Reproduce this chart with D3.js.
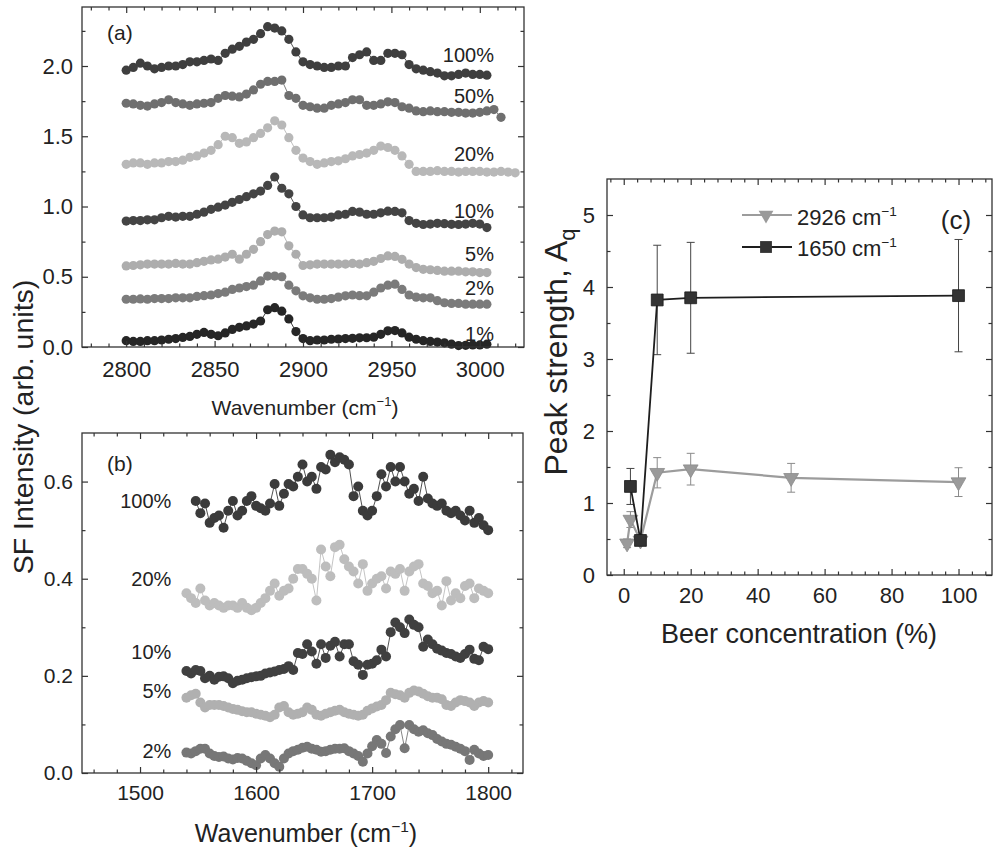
<!DOCTYPE html>
<html>
<head>
<meta charset="utf-8">
<script src="https://cdn.jsdelivr.net/npm/d3@7"></script>
<style>
body { margin: 0; background: #fff; }
svg { display: block; }
</style>
</head>
<body>
<svg id="fig" width="997" height="849"></svg>
<script>
var FONT = '"Liberation Sans", Arial, Helvetica, sans-serif';

// ---- panel (a): C-H stretch region, sampled every 4 cm-1 from 2800 ----
var chStart = 2800, chStep = 4;
var chNames = ["100%", "50%", "20%", "10%", "5%", "2%", "1%"];
var ch100 = [1.97,1.99,2.02,2.00,1.98,1.99,2.00,2.00,2.01,2.03,2.03,2.04,2.05,2.04,2.09,2.12,2.14,2.17,2.19,2.23,2.28,2.27,2.25,2.19,2.10,
             2.03,2.01,2.00,1.99,1.99,2.00,2.00,2.06,2.08,2.10,2.04,2.04,2.09,2.09,2.08,2.01,1.98,1.97,1.96,1.95,1.93,1.93,1.94,1.95,1.94,
             1.94,1.935];
var ch50 = [1.735,1.73,1.72,1.715,1.73,1.74,1.76,1.74,1.73,1.72,1.73,1.735,1.74,1.77,1.79,1.785,1.78,1.80,1.83,1.87,1.89,1.89,1.90,1.79,1.77,
            1.72,1.71,1.70,1.70,1.72,1.73,1.74,1.76,1.76,1.72,1.72,1.73,1.745,1.74,1.71,1.70,1.68,1.675,1.68,1.675,1.675,1.67,1.67,1.665,1.665,
            1.67,1.68,1.69,1.635];
var ch20 = [1.30,1.31,1.31,1.30,1.31,1.31,1.32,1.32,1.33,1.35,1.36,1.38,1.40,1.44,1.50,1.49,1.45,1.46,1.49,1.52,1.56,1.61,1.58,1.49,1.40,
            1.345,1.32,1.30,1.31,1.32,1.325,1.34,1.36,1.37,1.38,1.40,1.43,1.42,1.40,1.36,1.30,1.25,1.25,1.25,1.255,1.25,1.25,1.245,1.25,1.25,
            1.25,1.245,1.245,1.25,1.245,1.24];
var ch10 = [0.896,0.90,0.90,0.905,0.905,0.92,0.93,0.925,0.93,0.93,0.945,0.96,0.98,0.995,1.01,1.03,1.05,1.07,1.09,1.11,1.15,1.21,1.13,1.09,1.00,
            0.94,0.92,0.92,0.92,0.925,0.94,0.945,0.965,0.96,0.945,0.945,0.955,0.967,0.965,0.955,0.90,0.88,0.872,0.875,0.88,0.878,0.873,0.872,0.875,0.88,
            0.875,0.85];
var ch5 = [0.577,0.58,0.585,0.59,0.59,0.59,0.59,0.595,0.59,0.59,0.60,0.61,0.62,0.625,0.64,0.66,0.625,0.66,0.695,0.75,0.80,0.825,0.82,0.72,0.66,
           0.58,0.585,0.59,0.59,0.59,0.59,0.59,0.595,0.59,0.60,0.61,0.63,0.648,0.645,0.624,0.59,0.565,0.553,0.55,0.545,0.54,0.54,0.54,0.535,0.535,
           0.53,0.53];
var ch2 = [0.34,0.34,0.342,0.34,0.345,0.345,0.345,0.35,0.35,0.35,0.36,0.365,0.37,0.38,0.39,0.41,0.42,0.43,0.44,0.47,0.505,0.505,0.50,0.44,0.40,
           0.364,0.35,0.34,0.34,0.345,0.355,0.364,0.37,0.365,0.364,0.39,0.42,0.44,0.447,0.41,0.37,0.355,0.35,0.35,0.33,0.315,0.31,0.31,0.305,0.305,
           0.305,0.305];
var ch1 = [0.045,0.04,0.04,0.045,0.045,0.05,0.055,0.06,0.068,0.075,0.09,0.104,0.09,0.08,0.10,0.125,0.14,0.15,0.163,0.185,0.265,0.28,0.255,0.20,0.11,
           0.06,0.045,0.05,0.05,0.055,0.057,0.06,0.062,0.065,0.066,0.07,0.09,0.115,0.117,0.10,0.07,0.055,0.045,0.04,0.035,0.03,0.02,0.01,0.012,0.015,
           0.015,0.02];
var chSeries = [ch100, ch50, ch20, ch10, ch5, ch2, ch1];
var chColors = ["#3f3f3f", "#6f6f6f", "#b8b8b8", "#444444", "#adadad", "#7b7b7b", "#262626"];
var chLabelY = [2.03, 1.74, 1.325, 0.92, 0.615, 0.37, 0.045];

// ---- panel (b): amide region, sampled every 4 cm-1 ----
var amStep = 4;
var amNames = ["100%", "20%", "10%", "5%", "2%"];
var amStarts = [1548, 1540, 1540, 1540, 1540];
var am100 = [0.56,0.535,0.555,0.515,0.525,0.53,0.505,0.54,0.56,0.53,0.54,0.56,0.57,0.55,0.545,0.54,0.555,0.595,0.55,0.575,
             0.595,0.59,0.61,0.635,0.60,0.61,0.585,0.63,0.625,0.655,0.64,0.65,0.645,0.635,0.57,0.59,0.54,0.53,0.54,0.57,
             0.615,0.59,0.63,0.60,0.63,0.60,0.575,0.585,0.56,0.61,0.565,0.555,0.55,0.555,0.54,0.535,0.54,0.53,0.52,0.54,
             0.515,0.525,0.51,0.50];
var am20 = [0.37,0.36,0.35,0.38,0.355,0.345,0.35,0.345,0.34,0.345,0.345,0.34,0.35,0.34,0.335,0.34,0.35,0.36,0.375,0.39,
            0.365,0.375,0.38,0.40,0.42,0.42,0.41,0.40,0.355,0.46,0.425,0.405,0.465,0.47,0.44,0.425,0.415,0.39,0.43,0.375,
            0.39,0.40,0.405,0.38,0.415,0.41,0.42,0.375,0.415,0.425,0.43,0.39,0.385,0.37,0.375,0.345,0.395,0.355,0.37,0.36,
            0.385,0.39,0.36,0.38,0.375,0.37];
var am10 = [0.21,0.205,0.212,0.21,0.195,0.20,0.192,0.198,0.199,0.195,0.185,0.19,0.192,0.195,0.197,0.199,0.20,0.205,0.207,0.209,
            0.212,0.214,0.22,0.212,0.247,0.245,0.265,0.25,0.225,0.265,0.237,0.262,0.27,0.24,0.265,0.265,0.23,0.223,0.202,0.223,
            0.225,0.232,0.254,0.24,0.29,0.31,0.30,0.288,0.316,0.305,0.30,0.26,0.275,0.265,0.256,0.252,0.247,0.245,0.24,0.237,
            0.245,0.254,0.235,0.232,0.26,0.255];
var am5 = [0.155,0.16,0.163,0.145,0.135,0.14,0.14,0.14,0.138,0.135,0.132,0.13,0.127,0.125,0.125,0.122,0.12,0.118,0.115,0.12,
           0.135,0.138,0.125,0.12,0.122,0.125,0.135,0.13,0.12,0.118,0.122,0.125,0.128,0.13,0.125,0.122,0.12,0.118,0.12,0.128,
           0.133,0.137,0.14,0.15,0.165,0.162,0.16,0.155,0.165,0.17,0.168,0.163,0.158,0.155,0.155,0.152,0.14,0.138,0.145,0.15,
           0.148,0.145,0.138,0.145,0.148,0.145];
var am2 = [0.042,0.04,0.045,0.05,0.05,0.04,0.035,0.033,0.034,0.03,0.028,0.031,0.03,0.025,0.02,0.016,0.03,0.037,0.03,0.02,
           0.013,0.03,0.04,0.045,0.048,0.052,0.054,0.05,0.048,0.044,0.045,0.048,0.05,0.05,0.051,0.045,0.04,0.035,0.023,0.04,
           0.055,0.068,0.06,0.041,0.075,0.09,0.099,0.051,0.099,0.09,0.085,0.088,0.082,0.078,0.07,0.065,0.06,0.058,0.054,0.05,
           0.045,0.027,0.048,0.04,0.035,0.037];
var amSeries = [am100, am20, am10, am5, am2];
var amColors = ["#3b3b3b", "#bdbdbd", "#404040", "#b0b0b0", "#777777"];
var amLabelY = [0.546, 0.386, 0.235, 0.155, 0.031];

// ---- panel (c): peak strength vs beer concentration ----
var conc2926 = [1, 2, 5, 10, 20, 50, 100];
var peak2926 = [0.44, 0.77, 0.48, 1.42, 1.47, 1.35, 1.29];
var err2926  = [0.06, 0.11, 0.06, 0.21, 0.22, 0.20, 0.20];
var conc1650 = [2, 5, 10, 20, 100];
var peak1650 = [1.23, 0.48, 3.82, 3.85, 3.88];
var err1650  = [0.25, 0.06, 0.76, 0.77, 0.78];

var svg = d3.select("#fig");

function supText(sel, before, after, fs) {
    sel.append("tspan").text(before);
    sel.append("tspan").attr("dy", -0.42 * fs).style("font-size", (0.62 * fs) + "px").text("\u22121");
    sel.append("tspan").attr("dy", 0.42 * fs).text(after);
}

function minors(lo, hi, step, majors) {
    return d3.range(lo, hi + step / 2, step).filter(function (v) {
        return !majors.some(function (m) { return Math.abs(m - v) < 1e-6; });
    });
}

// frame with inward ticks on all four sides
function frame(g, x, y, w, h, o) {
    var tk = function (sel) {
        sel.select(".domain").remove();
        sel.attr("color", "#333");
        sel.selectAll("line").attr("stroke-width", 1.2);
        sel.selectAll("text").style("font-family", FONT).style("font-size", o.fs + "px").attr("fill", "#222");
    };
    g.append("g").attr("transform", "translate(0," + h + ")")
        .call(d3.axisBottom(x).tickValues(o.xt).tickSize(-6).tickPadding(o.xpad).tickFormat(o.xf)).call(tk);
    g.append("g").attr("transform", "translate(0," + h + ")")
        .call(d3.axisBottom(x).tickValues(o.xm).tickSize(-3.5).tickFormat("")).call(tk);
    g.append("g").call(d3.axisTop(x).tickValues(o.xt).tickSize(-6).tickFormat("")).call(tk);
    g.append("g").call(d3.axisTop(x).tickValues(o.xm).tickSize(-3.5).tickFormat("")).call(tk);
    g.append("g").call(d3.axisLeft(y).tickValues(o.yt).tickSize(-6).tickPadding(o.ypad).tickFormat(o.yf)).call(tk);
    g.append("g").call(d3.axisLeft(y).tickValues(o.ym).tickSize(-3.5).tickFormat("")).call(tk);
    g.append("g").attr("transform", "translate(" + w + ",0)")
        .call(d3.axisRight(y).tickValues(o.yt).tickSize(-6).tickFormat("")).call(tk);
    g.append("g").attr("transform", "translate(" + w + ",0)")
        .call(d3.axisRight(y).tickValues(o.ym).tickSize(-3.5).tickFormat("")).call(tk);
    g.append("rect").attr("width", w).attr("height", h)
        .attr("fill", "none").attr("stroke", "#333").attr("stroke-width", 1.3);
}

function spectra(g, x, y, series, starts, step, colors, r) {
    series.forEach(function (vals, i) {
        var pts = vals.map(function (v, j) { return [starts[i] + j * step, v]; });
        g.append("path").datum(pts)
            .attr("d", d3.line().x(function (d) { return x(d[0]); }).y(function (d) { return y(d[1]); }))
            .attr("fill", "none").attr("stroke", colors[i]).attr("stroke-width", 0.9);
        g.selectAll(null).data(pts).enter().append("circle")
            .attr("cx", function (d) { return x(d[0]); })
            .attr("cy", function (d) { return y(d[1]); })
            .attr("r", r).attr("fill", colors[i]);
    });
}

// ---------- (a) ----------
var aW = 442, aH = 340;
var ga = svg.append("g").attr("transform", "translate(82,7)");
var xa = d3.scaleLinear().domain([2775, 3025]).range([0, aW]);
var ya = d3.scaleLinear().domain([0, 2.42]).range([aH, 0]);
spectra(ga, xa, ya, chSeries, chSeries.map(function () { return chStart; }), chStep, chColors, 4.6);
frame(ga, xa, ya, aW, aH, {
    xt: [2800, 2850, 2900, 2950, 3000], xm: minors(2780, 3020, 10, [2800, 2850, 2900, 2950, 3000]),
    yt: [0, 0.5, 1, 1.5, 2], ym: [0.25, 0.75, 1.25, 1.75, 2.25],
    xf: d3.format("d"), yf: d3.format(".1f"), fs: 22, xpad: 14, ypad: 9
});
chNames.forEach(function (n, i) {
    ga.append("text").attr("x", xa(3008)).attr("y", ya(chLabelY[i])).attr("text-anchor", "end")
        .style("font-family", FONT).style("font-size", "20px").attr("fill", "#222").text(n);
});
ga.append("text").attr("x", 25).attr("y", 33).style("font-family", FONT).style("font-size", "21px")
    .attr("fill", "#222").text("(a)");
svg.append("text").attr("x", 305).attr("y", 415).attr("text-anchor", "middle")
    .style("font-family", FONT).style("font-size", "21px").attr("fill", "#222")
    .call(supText, "Wavenumber (cm", ")", 21);

// ---------- (b) ----------
var bW = 441, bH = 340;
var gb = svg.append("g").attr("transform", "translate(82,433)");
var xb = d3.scaleLinear().domain([1450, 1830]).range([0, bW]);
var yb = d3.scaleLinear().domain([0, 0.70]).range([bH, 0]);
spectra(gb, xb, yb, amSeries, amStarts, amStep, amColors, 5);
frame(gb, xb, yb, bW, bH, {
    xt: [1500, 1600, 1700, 1800], xm: minors(1460, 1820, 20, [1500, 1600, 1700, 1800]),
    yt: [0, 0.2, 0.4, 0.6], ym: [0.1, 0.3, 0.5],
    xf: d3.format("d"), yf: d3.format(".1f"), fs: 21, xpad: 12, ypad: 9
});
amNames.forEach(function (n, i) {
    gb.append("text").attr("x", xb(1527)).attr("y", yb(amLabelY[i])).attr("text-anchor", "end")
        .style("font-family", FONT).style("font-size", "20px").attr("fill", "#222").text(n);
});
gb.append("text").attr("x", 25).attr("y", 38).style("font-family", FONT).style("font-size", "21px")
    .attr("fill", "#222").text("(b)");
svg.append("text").attr("x", 306).attr("y", 842).attr("text-anchor", "middle")
    .style("font-family", FONT).style("font-size", "25px").attr("fill", "#222")
    .call(supText, "Wavenumber (cm", ")", 25);

// shared y title
svg.append("text").attr("transform", "translate(33,427) rotate(-90)").attr("text-anchor", "middle")
    .style("font-family", FONT).style("font-size", "28.5px").attr("fill", "#222")
    .text("SF Intensity (arb. units)");

// ---------- (c) ----------
var cW = 385, cH = 396;
var gc = svg.append("g").attr("transform", "translate(607,179)");
var xc = d3.scaleLinear().domain([-5, 110]).range([0, cW]);
var yc = d3.scaleLinear().domain([0, 5.5]).range([cH, 0]);
var triSym = d3.symbol().type(d3.symbolTriangle).size(95);
var sqSym = d3.symbol().type(d3.symbolSquare).size(140);

function errBars(g, xs, ys, es, col) {
    xs.forEach(function (xv, i) {
        var x0 = xc(xv), t = yc(ys[i] + es[i]), b = yc(ys[i] - es[i]);
        g.append("line").attr("x1", x0).attr("x2", x0).attr("y1", t).attr("y2", b).attr("stroke", col).attr("stroke-width", 1);
        g.append("line").attr("x1", x0 - 4).attr("x2", x0 + 4).attr("y1", t).attr("y2", t).attr("stroke", col).attr("stroke-width", 1);
        g.append("line").attr("x1", x0 - 4).attr("x2", x0 + 4).attr("y1", b).attr("y2", b).attr("stroke", col).attr("stroke-width", 1);
    });
}
var lineC = d3.line().x(function (d) { return xc(d[0]); }).y(function (d) { return yc(d[1]); });

errBars(gc, conc2926, peak2926, err2926, "#8a8a8a");
gc.append("path").datum(conc2926.map(function (c, i) { return [c, peak2926[i]]; }))
    .attr("d", lineC).attr("fill", "none").attr("stroke", "#9c9c9c").attr("stroke-width", 2.2);
gc.selectAll(null).data(conc2926).enter().append("path")
    .attr("d", triSym)
    .attr("transform", function (c, i) { return "translate(" + xc(c) + "," + yc(peak2926[i]) + ") rotate(180)"; })
    .attr("fill", "#9a9a9a").attr("stroke", "#8a8a8a").attr("stroke-width", 0.8);

errBars(gc, conc1650, peak1650, err1650, "#444");
gc.append("path").datum(conc1650.map(function (c, i) { return [c, peak1650[i]]; }))
    .attr("d", lineC).attr("fill", "none").attr("stroke", "#1e1e1e").attr("stroke-width", 1.8);
gc.selectAll(null).data(conc1650).enter().append("path")
    .attr("d", sqSym)
    .attr("transform", function (c, i) { return "translate(" + xc(c) + "," + yc(peak1650[i]) + ")"; })
    .attr("fill", "#333").attr("stroke", "#1a1a1a").attr("stroke-width", 0.8);

frame(gc, xc, yc, cW, cH, {
    xt: [0, 20, 40, 60, 80, 100], xm: minors(-4, 108, 4, [0, 20, 40, 60, 80, 100]),
    yt: [0, 1, 2, 3, 4, 5], ym: [0.5, 1.5, 2.5, 3.5, 4.5],
    xf: d3.format("d"), yf: d3.format("d"), fs: 22, xpad: 12, ypad: 12
});

// legend
var lg = svg.append("g");
lg.append("line").attr("x1", 742).attr("x2", 792).attr("y1", 215).attr("y2", 215).attr("stroke", "#9c9c9c").attr("stroke-width", 2.2);
lg.append("path").attr("d", triSym).attr("transform", "translate(766,215) rotate(180)").attr("fill", "#9a9a9a");
lg.append("text").attr("x", 797).attr("y", 225).style("font-family", FONT).style("font-size", "22px").attr("fill", "#222")
    .call(supText, "2926 cm", "", 22);
lg.append("line").attr("x1", 742).attr("x2", 792).attr("y1", 247).attr("y2", 247).attr("stroke", "#1e1e1e").attr("stroke-width", 1.8);
lg.append("path").attr("d", sqSym).attr("transform", "translate(766,247)").attr("fill", "#333");
lg.append("text").attr("x", 797).attr("y", 256).style("font-family", FONT).style("font-size", "22px").attr("fill", "#222")
    .call(supText, "1650 cm", "", 22);
svg.append("text").attr("x", 956).attr("y", 229).attr("text-anchor", "middle")
    .style("font-family", FONT).style("font-size", "26px").attr("fill", "#222").text("(c)");

svg.append("text").attr("transform", "translate(567,352) rotate(-90)").attr("text-anchor", "middle")
    .style("font-family", FONT).style("font-size", "32px").attr("fill", "#222")
    .call(function (t) {
        t.append("tspan").text("Peak strength, A");
        t.append("tspan").attr("dy", 8).style("font-size", "22px").text("q");
    });
svg.append("text").attr("x", 799).attr("y", 643).attr("text-anchor", "middle")
    .style("font-family", FONT).style("font-size", "27px").attr("fill", "#222")
    .text("Beer concentration (%)");
</script>
</body>
</html>
